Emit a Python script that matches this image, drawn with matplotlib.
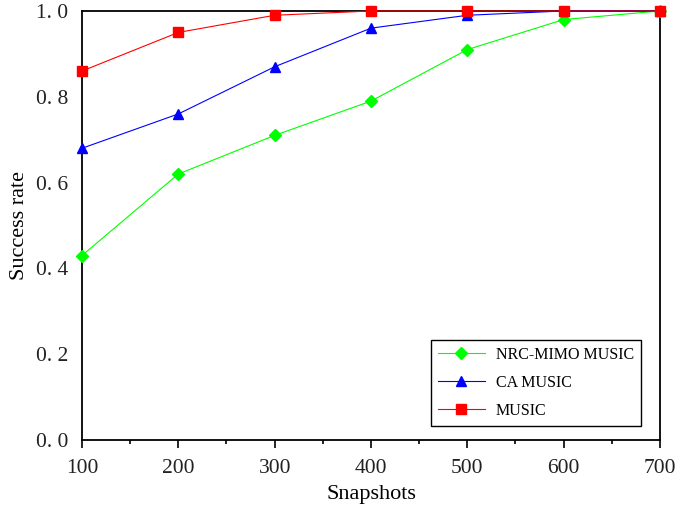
import numpy as np
import matplotlib.pyplot as plt
from matplotlib.ticker import MultipleLocator

plt.rcParams['font.family'] = ['Liberation Serif', 'DejaVu Serif']

# Success rate versus number of snapshots
snapshots = [100, 200, 300, 400, 500, 600, 700]
nrc_mimo = [0.43, 0.62, 0.71, 0.79, 0.91, 0.98, 1.0]
ca_music = [0.68, 0.76, 0.87, 0.96, 0.99, 1.0, 1.0]
music = [0.86, 0.95, 0.99, 1.0, 1.0, 1.0, 1.0]
yticks = [0.0, 0.2, 0.4, 0.6, 0.8, 1.0]
ytick_labels = ["0. 0", "0. 2", "0. 4", "0. 6", "0. 8", "1. 0"]

fig = plt.figure(figsize=(6.76, 5.13), dpi=100)
ax = fig.add_axes([0.1213, 0.1423, 0.855, 0.8363])

ax.plot(snapshots, nrc_mimo, color="#00ff00", linewidth=0.8, marker="D",
        markersize=6.5, label="NRC-MIMO MUSIC", clip_on=False, zorder=3)
ax.plot(snapshots, ca_music, color="#0000ff", linewidth=0.8, marker="^",
        markersize=7.5, label="CA MUSIC", clip_on=False, zorder=4)
ax.plot(snapshots, music, color="#ff0000", linewidth=0.8, marker="s",
        markersize=6.5, label="MUSIC", clip_on=False, zorder=5)

ax.set_xlim(100, 700)
ax.set_ylim(0, 1.0)
ax.set_xticks(snapshots)
ax.xaxis.set_minor_locator(MultipleLocator(50))
ax.set_yticks(yticks)
ax.set_yticklabels(ytick_labels)

ax.tick_params(axis="x", which="major", direction="out", length=6, width=1.2,
               labelsize=15.5, pad=8, labelcolor="#222222")
ax.tick_params(axis="x", which="minor", direction="out", length=3, width=1.2)
ax.tick_params(axis="y", length=0, labelsize=15.5, pad=10, labelcolor="#222222")
for s in ax.spines.values():
    s.set_linewidth(1.3)

ax.set_xlabel("Snapshots", fontsize=16, labelpad=5)
ax.set_ylabel("Success rate", fontsize=16, labelpad=5)

leg = ax.legend(loc="lower right", bbox_to_anchor=(641 / 676, 87 / 513),
                bbox_transform=fig.transFigure, fancybox=False,
                edgecolor="black", fontsize=11.5, handlelength=2.9,
                handletextpad=0.7, borderpad=0.45, labelspacing=0.75,
                borderaxespad=0, framealpha=1)
leg.get_frame().set_linewidth(1.0)

plt.savefig("out.png")
